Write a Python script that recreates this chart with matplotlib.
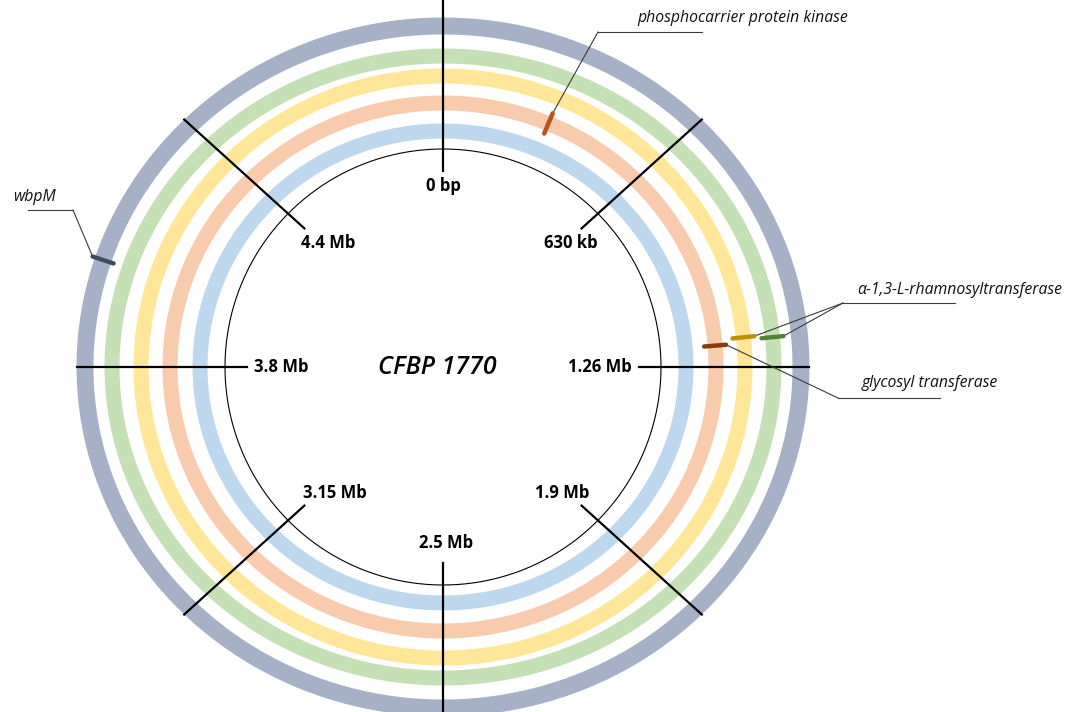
import numpy as np
import matplotlib
matplotlib.use('Agg')
import matplotlib.pyplot as plt

# Genome map data
genome_mb = 5.04
tick_pos_mb = [0, 0.63, 1.26, 1.89, 2.52, 3.15, 3.78, 4.41]
tick_labels = ['0 bp', '630 kb', '1.26 Mb', '1.9 Mb', '2.5 Mb', '3.15 Mb', '3.8 Mb', '4.4 Mb']

ring_names = ['blue', 'orange', 'yellow', 'green', 'gray']
ring_colors = ['#bdd7ee', '#f8cbad', '#ffe699', '#c5e0b4', '#a6b1c7']

gene_names = ['phosphocarrier protein kinase', 'α-1,3-L-rhamnosyltransferase',
              'α-1,3-L-rhamnosyltransferase', 'glycosyl transferase', 'wbpM']
gene_pos_mb = [0.318, 1.178, 1.183, 1.195, 4.036]
gene_ring = ['orange', 'yellow', 'green', 'orange', 'gray']
gene_colors = ['#b9551a', '#bf9000', '#548235', '#843c0c', '#3e4c62']

title = 'CFBP 1770'

# layout (pixel space, y down)
W, H = 1075, 712
cx, cy = 443, 367
ring_rx = [243, 273, 302, 331, 358]
ring_ry = [236, 264, 291, 311, 341]
ring_lw = [10.8, 10.8, 10.8, 10.8, 12.2]
inner_r = 218
tick_in = 196

fig = plt.figure(figsize=(W / 100, H / 100), dpi=100)
ax = fig.add_axes([0, 0, 1, 1])
ax.set_xlim(0, W)
ax.set_ylim(H, 0)
ax.axis('off')


def pt(theta, rx, ry):
    return cx + rx * np.sin(theta), cy - ry * np.cos(theta)


t = np.linspace(0, 2 * np.pi, 720)
for rx, ry, c, lw in zip(ring_rx, ring_ry, ring_colors, ring_lw):
    x, y = pt(t, rx, ry)
    ax.plot(x, y, color=c, lw=lw, solid_capstyle='butt', zorder=1)

x, y = pt(t, inner_r, inner_r)
ax.plot(x, y, color='black', lw=0.8, zorder=2)

# position ticks
nudge = [(0, -6), (4, 0), (-18, 0), (-5, 2), (3, 1), (16, 2), (13, 0), (9, 0)]
for p, lab, (dx, dy) in zip(tick_pos_mb, tick_labels, nudge):
    th = p / genome_mb * 2 * np.pi
    x0, y0 = pt(th, tick_in, tick_in)
    if abs(np.sin(th)) < 0.01:
        x1, y1 = pt(th, 370, 370)
    else:
        x1, y1 = pt(th, 366, 350)
    ax.plot([x0, x1], [y0, y1], color='black', lw=1.6, zorder=3)
    lx, ly = pt(th, 175, 175)
    ax.text(lx + dx, ly + dy, lab, ha='center', va='center', fontsize=12,
            fontweight='bold', family='Open Sans', color='black', zorder=4)

ax.text(437, 367, title, ha='center', va='center', fontsize=18, style='italic',
        fontweight='semibold', family='Open Sans', color='black')

# gene markers
ends = []
for p, rn, c in zip(gene_pos_mb, gene_ring, gene_colors):
    i = ring_names.index(rn)
    th = p / genome_mb * 2 * np.pi
    x0, y0 = pt(th, ring_rx[i] - 11, ring_ry[i] - 11)
    x1, y1 = pt(th, ring_rx[i] + 11, ring_ry[i] + 11)
    ax.plot([x0, x1], [y0, y1], color=c, lw=3.2, solid_capstyle='round', zorder=5)
    ends.append((x1, y1))

# callouts: elbow, line end, text anchor
lead = '#3a3a3a'
callouts = [
    ([0], (598, 32), 702, (637, 18), 'left'),
    ([1, 2], (843, 303), 955, (857, 290), 'left'),
    ([3], (838, 398), 940, (862, 383), 'left'),
    ([4], (73, 210), 28, (34, 197), 'center'),
]
for idx, (ex, ey), lx_end, (tx, ty), ha in callouts:
    for k in idx:
        mx, my = ends[k]
        ax.plot([mx, ex], [my, ey], color=lead, lw=0.8, zorder=4)
    ax.plot([ex, lx_end], [ey, ey], color=lead, lw=0.8, zorder=4)
    ax.text(tx, ty, gene_names[idx[0]], ha=ha, va='center', fontsize=11.3,
            style='italic', family='Open Sans', color='#111111')

fig.savefig('out.png', dpi=100)
